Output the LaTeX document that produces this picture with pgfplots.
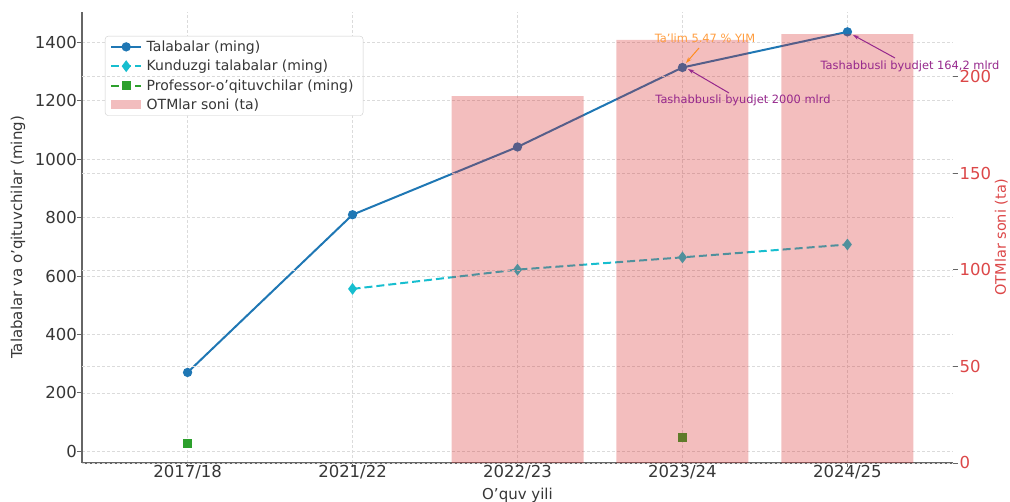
\documentclass[border=0pt]{standalone}
\usepackage{fontspec}
\setmainfont{DejaVu Sans}
\usepackage{pgfplots}
\pgfplotsset{compat=1.18}
\usetikzlibrary{arrows.meta}
\definecolor{tabblue}{RGB}{31,119,180}
\definecolor{tabcyan}{RGB}{23,190,207}
\definecolor{tabgreen}{RGB}{44,160,44}
\definecolor{tabred}{RGB}{214,39,40}
\definecolor{taborange}{RGB}{255,140,30}
\definecolor{annpurple}{RGB}{150,40,140}
\definecolor{txtgray}{RGB}{55,55,55}
\pgfplotsset{
  mylegline/.style={legend image code/.code={%
    \draw[sharp corners,mark repeat=2,mark phase=2,##1] plot coordinates {(0pt,0pt)(15pt,0pt)(30pt,0pt)};}},
}
\begin{document}
\begin{tikzpicture}
\path[use as bounding box] (-82pt,-39pt) rectangle (928pt,463pt);
\begin{axis}[
  at={(0,0)}, anchor=south west, scale only axis,
  width=871pt, height=451pt,
  xmin=-0.64, xmax=4.64, ymin=-40, ymax=1504,
  xtick={0,1,2,3,4},
  xticklabels={2017/18,2021/22,2022/23,2023/24,2024/25},
  ytick={0,200,400,600,800,1000,1200,1400},
  axis x line*=bottom, axis y line*=left,
  grid=major,
  grid style={dash pattern=on 3pt off 2pt, black!14, line width=0.6pt},
  tick align=outside, major tick length=4.5pt,
  tick style={black!60, line width=0.9pt},
  axis line style={black!60, line width=1.1pt},
  /pgf/number format/assume math mode=true,
  /pgf/number format/1000 sep={},
  ticklabel style={font=\fontsize{16.5}{19}\selectfont, text=txtgray},
  yticklabel style={inner xsep=0.5pt},
  xticklabel style={inner ysep=0pt, yshift=2pt},
  xlabel={O’quv yili},
  ylabel={Talabalar va o’qituvchilar (ming)},
  label style={font=\fontsize{15}{18}\selectfont, text=txtgray},
  xlabel style={at={(axis description cs:0.5,0)}, anchor=center, yshift=-32pt},
  ylabel style={at={(axis description cs:-0.0735,0.5)}, anchor=center},
  unbounded coords=jump,
  legend style={at={(0.0264,0.9468)}, anchor=north west, draw=black!20,
    rounded corners=3pt, fill=white, font=\fontsize{14}{16}\selectfont,
    text=txtgray, inner xsep=5pt, inner ysep=3pt, row sep=4pt,
    nodes={inner xsep=4.5pt, inner ysep=1.6pt}},
  legend cell align=left,
]
\addplot[tabblue, line width=2pt, mark=*, mark size=3.6pt, mylegline]
  coordinates {(0,270)(1,810)(2,1042)(3,1314)(4,1436)};
\addlegendentry{Talabalar (ming)}
\addplot[tabcyan, line width=2pt, dash pattern=on 8pt off 4pt, mark=diamond*, mark size=4.3pt, mark options={solid}, mylegline]
  coordinates {(0,nan)(1,556)(2,622)(3,664)(4,708)};
\addlegendentry{Kunduzgi talabalar (ming)}
\addplot[tabgreen, line width=2pt, dash pattern=on 8pt off 4pt, mark=square*, mark size=3.6pt, mark options={solid}, mylegline]
  coordinates {(0,27)(1,nan)(2,nan)(3,48)(4,nan)};
\addlegendentry{Professor-o’qituvchilar (ming)}
\addlegendimage{legend image code/.code={\fill[draw=none, sharp corners, tabred, fill opacity=0.3] (0pt,-4.5pt) rectangle (30pt,4.5pt);}}
\addlegendentry{OTMlar soni (ta)}
\end{axis}
\begin{axis}[
  at={(0,0)}, anchor=south west, scale only axis,
  width=871pt, height=451pt,
  xmin=-0.64, xmax=4.64, ymin=0, ymax=233.5,
  hide x axis,
  axis y line*=right,
  y axis line style={draw=none},
  ytick={0,50,100,150,200},
  ymajorgrids,
  grid style={dash pattern=on 3pt off 2pt, black!14, line width=0.6pt},
  tick align=outside, major tick length=4.5pt,
  tick style={black!60, line width=0.9pt},
  /pgf/number format/assume math mode=true,
  ticklabel style={font=\fontsize{16.5}{19}\selectfont, text=tabred!85},
  yticklabel style={inner xsep=2pt},
  ylabel={OTMlar soni (ta)},
  label style={font=\fontsize{14.5}{17}\selectfont, text=tabred!85},
  ylabel style={at={(axis description cs:1.0555,0.5)}, anchor=center},
]
\addplot[ybar, bar width=132pt, fill=tabred, fill opacity=0.3, draw=none]
  coordinates {(2,190)(3,219)(4,222)};
\end{axis}
\begin{scope}[font=\fontsize{11.4}{13}\selectfont]
\node[text=taborange!85] at (623pt,425pt) {Ta’lim 5.47 \% YIM};
\draw[taborange, line width=1pt, -{Stealth[length=6pt,width=4pt]}] (617pt,415pt) -- (604pt,400pt);
\node[text=annpurple] at (661pt,363pt) {Tashabbusli byudjet 2000 mlrd};
\draw[annpurple, line width=1pt, -{Stealth[length=6pt,width=4pt]}] (647pt,370pt) -- (606pt,394pt);
\node[text=annpurple] at (828pt,397pt) {Tashabbusli byudjet 164,2 mlrd};
\draw[annpurple, line width=1pt, -{Stealth[length=6pt,width=4pt]}] (813pt,405pt) -- (771pt,428pt);
\end{scope}
\end{tikzpicture}
\end{document}
